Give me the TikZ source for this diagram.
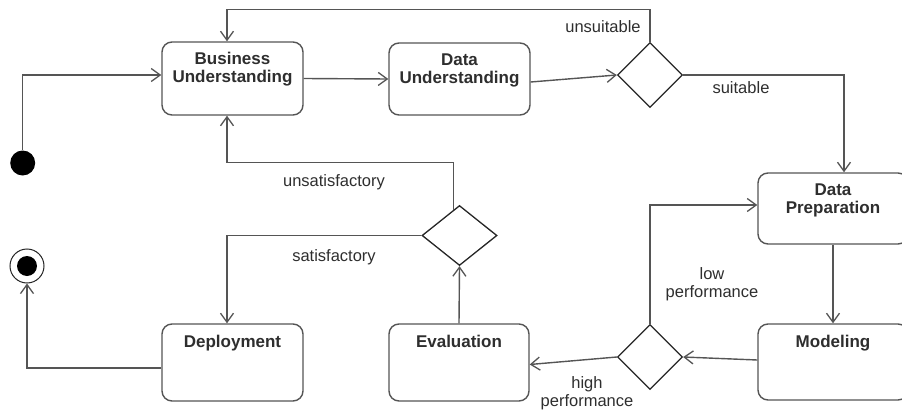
\documentclass[tikz,border=0pt]{standalone}
\usepackage{fontspec}
\setmainfont{Liberation Sans}
\usetikzlibrary{shapes.geometric,arrows.meta,calc}
\definecolor{linegray}{HTML}{555555}
\definecolor{diagray}{HTML}{262626}
\definecolor{textgray}{HTML}{2e2e2e}
\tikzset{
  activity/.style={draw=linegray, line width=1.4pt, rounded corners=10pt,
    fill=white, inner sep=0pt},
  title/.style={anchor=north, align=center, text=textgray,
    font=\fontsize{17}{18}\selectfont\bfseries, inner sep=0pt},
  decision/.style={diamond, draw=diagray, line width=1.3pt, fill=white,
    inner sep=0pt, aspect=1},
  guard/.style={align=center, text=textgray,
    font=\fontsize{16.5}{18}\selectfont, inner sep=0pt},
  flow/.style={draw=linegray, line width=1.4pt,
    -{Straight Barb[length=9pt,width=13pt,line width=1.3pt]}},
}
\begin{document}
\begin{tikzpicture}[x=1pt,y=-1pt]
  \useasboundingbox (0,0) rectangle (902,412);
  \clip (0,0) rectangle (902,412);

  % start and end points
  \node[circle, fill=black, minimum size=25pt, inner sep=0pt] (init) at (22.7,163) {};
  \node[circle, draw=diagray, line width=1pt, fill=white, minimum size=34pt, inner sep=0pt] (fin) at (27,266) {};
  \fill[black] (fin.center) circle (10pt);

  % activities
  \node[activity, minimum width=141pt, minimum height=73pt] (bu) at (232.5,78.5) {};
  \node[title] at ([yshift=-11pt]bu.north) {Business\\Understanding};
  \node[activity, minimum width=141pt, minimum height=72pt] (du) at (459.5,79) {};
  \node[title] at ([yshift=-11pt]du.north) {Data\\Understanding};
  \node[activity, minimum width=150pt, minimum height=71pt] (dp) at (833,208.5) {};
  \node[title] at ([yshift=-11pt]dp.north) {Data\\Preparation};
  \node[activity, minimum width=150pt, minimum height=76pt] (mod) at (833,362) {};
  \node[title] at ([yshift=-12pt]mod.north) {Modeling};
  \node[activity, minimum width=140pt, minimum height=77pt] (ev) at (459,362.5) {};
  \node[title] at ([yshift=-12pt]ev.north) {Evaluation};
  \node[activity, minimum width=141pt, minimum height=77pt] (dep) at (232.5,362.5) {};
  \node[title] at ([yshift=-12pt]dep.north) {Deployment};

  % decisions
  \node[decision, minimum width=65pt, minimum height=65pt] (d1) at (650,75) {};
  \node[decision, minimum width=75pt, minimum height=60pt, aspect=1.25] (d2) at (459.5,235.5) {};
  \node[decision, minimum width=65pt, minimum height=65pt] (d3) at (650,357) {};

  % control flows
  \draw[flow] (init.north) |- ([yshift=3.5pt]bu.west);
  \draw[flow] (bu.east) -- (du.west);
  \draw[flow] ([yshift=-3pt]du.east) -- (d1.west);
  \draw[flow] (d1.north) -- ++(0,-32.5) -| ([xshift=-5.5pt]bu.north);
  \draw[flow] (d1.east) -| ([xshift=11pt]dp.north);
  \draw[flow] (dp.south) -- (mod.north);
  \draw[flow] ([yshift=2pt]mod.west) -- (d3.east);
  \draw[flow] (d3.north) |- ([yshift=3.5pt]dp.west);
  \draw[flow] (d3.west) -- ([yshift=-2pt]ev.east);
  \draw[flow] (ev.north) -- (d2.south);
  \draw[flow] ($(d2.north)+(-6,4.8)$) |- (300,162.5) -| ([xshift=-5.5pt]bu.south);
  \draw[flow] (d2.west) -| ([xshift=-5.5pt]dep.north);
  \draw[flow] ([yshift=-5.5pt]dep.west) -| (fin.south);

  % guards
  \node[guard] (g1) at (603,27) {unsuitable};
  \node[guard] (g2) at (741,88) {suitable};
  \node[guard] (g3) at (334,182) {unsatisfactory};
  \node[guard] (g4) at (334,257) {satisfactory};
  \node[guard] (g5) at (712,284.5) {low\\performance};
  \node[guard] (g6) at (587,393) {high\\performance};
\end{tikzpicture}
\end{document}
